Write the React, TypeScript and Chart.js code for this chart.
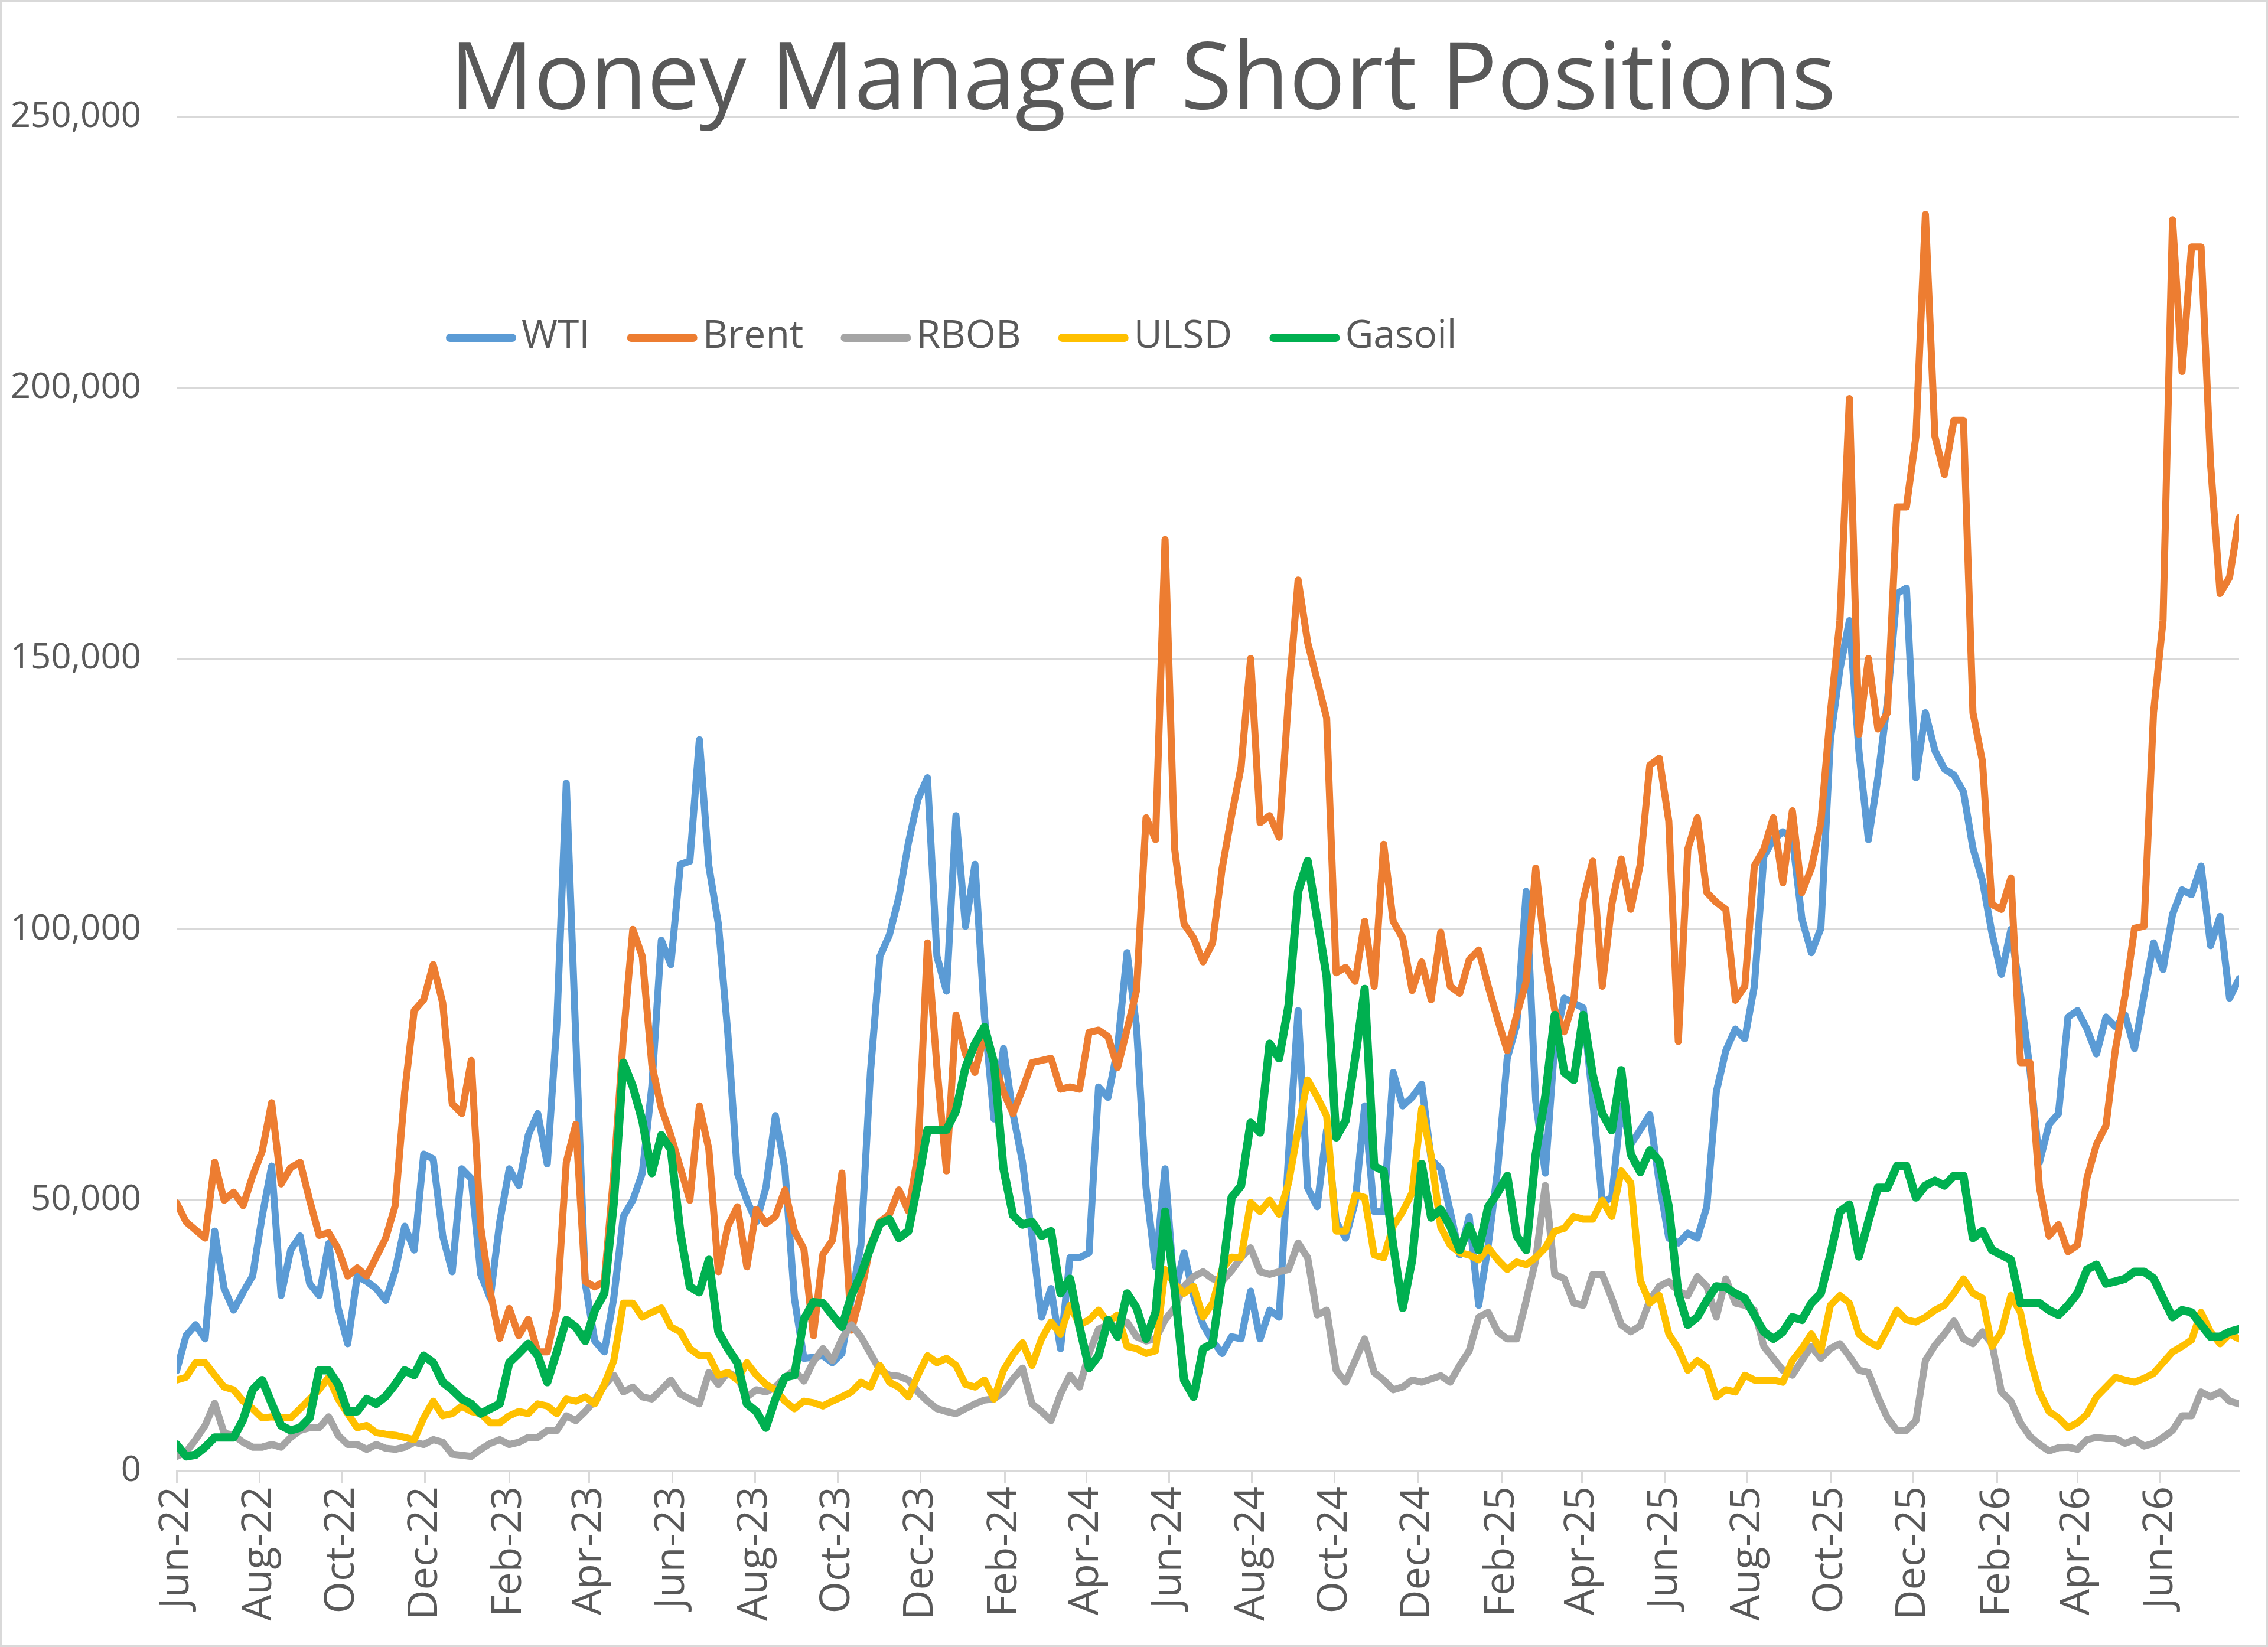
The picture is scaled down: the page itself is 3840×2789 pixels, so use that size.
import { useEffect, useRef } from 'react';
import Chart from 'chart.js/auto';

// weekly data, thousands of contracts, first week = 7 Jun 2022
const START = Date.UTC(2022, 5, 7);
const WEEK_DAYS = 7;

const tickLabels = [
  'Jun-22', 'Aug-22', 'Oct-22', 'Dec-22', 'Feb-23', 'Apr-23', 'Jun-23', 'Aug-23', 'Oct-23',
  'Dec-23', 'Feb-24', 'Apr-24', 'Jun-24', 'Aug-24', 'Oct-24', 'Dec-24', 'Feb-25', 'Apr-25',
  'Jun-25', 'Aug-25', 'Oct-25', 'Dec-25', 'Feb-26', 'Apr-26', 'Jun-26',
];

const wti = [
  18.5, 25, 27, 24.4, 44.3, 33.7, 29.7, 33, 36, 47, 56.3, 32.4, 40.8, 43.4, 34.6, 32.4, 42, 30.1, 23.5, 35.9, 35, 33.7,
  31.5, 37, 45.2, 40.8, 58.5, 57.6, 43.4, 36.8, 55.8, 54, 36.3, 31.9, 46, 55.8, 52.7, 62, 66, 56.7, 82.4, 127, 80, 34.6,
  24, 22, 32, 47, 50, 55, 71, 98, 93.5, 112, 112.6, 135, 111.7, 101, 80.7, 55, 50, 46, 52.3, 65.6, 55.8, 31.9,
  20.8, 21, 21.3, 20, 21.7, 31.9, 41.7, 73.6, 95, 99, 106, 116, 124, 128, 95, 88.6, 121, 100.6, 112, 84, 65, 78,
  66, 57, 43.4, 28.4, 33.7, 22.6, 39.4, 39.4, 40.3, 70.9, 69, 78, 95.7, 82, 52.3, 37.7, 55.8, 32.8, 40.3, 32.4, 27, 24,
  21.7, 24.8, 24.4, 33.2, 24.4, 29.7, 28.4, 58.5, 85, 52.3, 48.8, 63, 46, 43, 49.6, 67.4, 47.9, 47.9, 73.6, 67.4, 69, 71.4,
  57.5, 55.8, 47.9, 39.9, 47, 30.6, 41.7, 55.8, 76.2, 82.4, 107, 68.3, 55, 78.9, 87.3, 86.4, 85.5, 68.3, 49.6, 50.5, 67.4, 60.3,
  63, 65.8, 53.2, 43, 42.1, 43.9, 43, 48.8, 70, 77.6, 81.6, 79.8, 89.5, 113.5, 116.6, 118, 117, 102, 95.7, 100.2, 135, 148,
  157, 133, 116.6, 128, 142, 162, 163, 128, 140, 133, 129.6, 128.5, 125.4, 115, 109, 99.3, 91.7, 100, 88, 74, 57, 64,
  66, 83.8, 85, 81.6, 77, 83.8, 82, 84.2, 78, 87.8, 97.5, 92.6, 102.8, 107.3, 106.4, 111.7, 97, 102.4, 87.3, 90.9,
];

const brent = [
  49.5, 46, 44.5, 43, 57, 50, 51.5, 49, 54.5, 59, 68, 53, 56, 57, 50, 43.5, 44, 41, 36, 37.5, 36, 39.5,
  43, 49, 70, 85, 87, 93.5, 86.4, 67.8, 66, 75.8, 45, 33, 24.5, 30, 25, 28, 22, 22, 30, 57, 64, 35,
  34, 35, 55, 80, 100, 95, 75, 67, 62, 56, 50, 67.4, 59.4, 36.8, 45.2, 48.8, 37.7, 48.3, 45.7, 47, 51.9, 44.3,
  41, 25, 40, 42.6, 55, 26, 32.8, 41.7, 46, 47.4, 51.9, 48, 58.5, 97.5, 74.5, 55.4, 84.2, 77, 73.6, 80.7, 75.4, 70,
  66, 70.5, 75.4, 75.8, 76.2, 70.5, 70.9, 70.5, 81, 81.4, 80.2, 74.5, 81.5, 88.7, 120.6, 116.6, 172, 115, 101, 98.4, 94, 97.5,
  111.2, 121, 130, 150, 119.7, 121, 117, 143, 164.5, 153, 146, 139, 92, 93, 90.4, 101.5, 89.5, 115.7, 101.5, 98.4, 88.7, 94,
  87, 99.5, 89.5, 88.2, 94.4, 96.2, 89.5, 83.3, 77.6, 84.2, 90.4, 111.3, 95.7, 85.1, 81.1, 86.9, 105.5, 112.6, 89.5, 104.6, 113, 103.7,
  112, 130.3, 131.6, 120, 79.3, 114.8, 120.6, 106.8, 105, 103.7, 86.9, 89.5, 111.7, 114.8, 120.6, 108.6, 121.9, 106.8, 111.3, 119.7, 140, 157,
  198, 136, 150, 137, 140, 178, 178, 191, 232, 191, 184, 194, 194, 140, 131, 104.6, 103.7, 109.5, 75.4, 75.4, 52.3, 43.4,
  45.5, 40.5, 41.7, 54.1, 60.3, 63.8, 78, 87.8, 100.2, 100.6, 140, 157, 231, 203, 226, 226, 186, 162, 165, 176,
];

const rbob = [
  2.7, 3.5, 5.8, 8.4, 12.5, 7, 6.6, 5.3, 4.4, 4.4, 4.9, 4.4, 6.2, 7.5, 8, 8, 10, 6.6, 4.9, 4.9, 4, 4.9,
  4.2, 4, 4.4, 5.3, 4.9, 5.8, 5.3, 3.1, 2.9, 2.7, 4, 5.1, 5.8, 4.9, 5.3, 6.2, 6.2, 7.5, 7.5, 10.2, 9.3, 11,
  13, 15.8, 17.7, 14.6, 15.5, 13.7, 13.3, 15, 16.8, 14.2, 13.3, 12.4, 18.2, 16, 18.2, 17.3, 13.7, 15, 14.6, 15.5, 17.3, 18.6,
  16.6, 20.2, 22.6, 20.4, 24.4, 27, 24.8, 21.7, 18.6, 17.7, 17.5, 16.8, 14.6, 12.9, 11.5, 11, 10.6, 11.5, 12.4, 13.1, 13.3, 14.6,
  17, 19, 12.4, 11, 9.3, 14.2, 17.7, 15.5, 21.7, 26.2, 27, 26.6, 27.5, 24.8, 24, 24.4, 27.9, 30.1, 34.1, 35.9, 36.8, 35.5,
  35, 37, 39.4, 41.2, 36.8, 36.3, 36.8, 37.2, 42.1, 39.4, 28.8, 29.7, 18.6, 16.4, 20.4, 24.4, 18.2, 16.8, 15, 15.5, 16.8, 16.4,
  17, 17.6, 16.4, 19.5, 22.2, 28.4, 29.3, 25.7, 24.4, 24.4, 31.5, 39, 52.7, 36.3, 35.5, 31, 30.6, 36.3, 36.3, 31.9, 27, 25.7,
  26.8, 31.5, 34.1, 35, 33.2, 32.4, 35.9, 34.1, 28.4, 35.5, 31, 30.6, 29.7, 23, 20.8, 18.6, 17.7, 20.4, 23, 20.8, 22.6, 23.5,
  21.2, 18.6, 18.2, 13.7, 9.8, 7.5, 7.5, 9.3, 20.4, 23.2, 25.3, 27.7, 24.4, 23.5, 25.7, 23.5, 14.6, 12.9, 8.9, 6.4, 4.9, 3.7,
  4.3, 4.4, 4, 5.8, 6.2, 6, 6, 5.1, 5.8, 4.6, 5.1, 6.2, 7.5, 10.2, 10.2, 14.6, 13.7, 14.6, 12.9, 12.4,
];

const ulsd = [
  16.8, 17.3, 20, 20, 17.7, 15.5, 15, 12.9, 11.5, 9.8, 10, 9.8, 9.8, 11.5, 13.3, 15, 17.3, 13.3, 10.6, 8, 8.4, 7.1,
  6.8, 6.6, 6.2, 5.8, 9.8, 12.9, 10.2, 10.6, 12, 11, 10.6, 8.9, 8.9, 10.2, 11, 10.6, 12.4, 12, 10.6, 13.3, 12.9, 13.7,
  12.4, 16, 20.4, 31, 31, 28.4, 29.3, 30.1, 26.6, 25.7, 22.6, 21.3, 21.3, 17.7, 18.2, 16.8, 20, 17.7, 16, 15, 12.9, 11.5,
  12.9, 12.6, 12, 12.9, 13.7, 14.6, 16.4, 15.5, 19.5, 16.4, 15.5, 13.7, 17.7, 21.3, 20, 20.8, 19.5, 16, 15.5, 16.8, 13.3, 18.6,
  21.5, 23.7, 19.5, 24.4, 27.5, 25.3, 30.6, 27, 27.9, 29.7, 27.5, 28.8, 23, 22.6, 21.7, 22.2, 37.2, 34.6, 32.8, 34.1, 28.4, 31,
  37.2, 39.5, 39.4, 49.6, 47.9, 50, 47.4, 53.2, 63, 72.2, 69.1, 65.6, 44.3, 44.3, 51, 50.5, 39.9, 39.4, 45.2, 47.9, 51.4, 66.9,
  58.2, 45, 41.7, 40.3, 39.9, 39, 41.2, 39, 37.2, 38.6, 38.1, 39.4, 41.2, 44.3, 44.8, 47, 46.5, 46.5, 50, 47, 55.4, 53.2,
  35.2, 31, 32.4, 25.3, 22.6, 18.6, 20.4, 19.1, 13.7, 15, 14.6, 17.7, 16.8, 16.8, 16.8, 16.4, 20.4, 22.6, 25.3, 22.2, 30.6, 32.4,
  31, 25.3, 23.9, 23, 26.2, 29.7, 27.9, 27.5, 28.4, 29.7, 30.6, 32.8, 35.5, 32.8, 31.9, 23, 25.7, 32.4, 29.3, 20.8, 14.6, 11,
  9.8, 8, 8.9, 10.5, 13.7, 15.5, 17.3, 16.8, 16.4, 17.1, 18, 20, 22, 23, 24.2, 29.3, 25.7, 23.5, 25.3, 24.4,
];

const gasoil = [
  4.9, 2.7, 3, 4.4, 6.2, 6.2, 6.2, 9.5, 15, 16.8, 12.5, 8.4, 7.5, 8, 9.8, 18.6, 18.6, 16, 11, 11, 13.3, 12.4,
  13.8, 16, 18.6, 17.7, 21.3, 20, 16.4, 15, 13.3, 12.4, 10.6, 11.5, 12.4, 20, 21.7, 23.5, 21.3, 16.4, 22, 27.9, 26.6, 24,
  29.6, 32.8, 49.6, 75.4, 71, 64.7, 55, 62, 59.4, 44, 34, 33, 39, 25.7, 22.6, 20, 12.4, 11, 8, 13.3, 17.3, 17.7,
  28, 31.2, 31, 28.8, 26.6, 32.4, 36.3, 41.2, 45.7, 46.5, 43, 44.3, 53.2, 63, 63, 63, 66.5, 74.5, 78.9, 82, 75.4, 55.8,
  47.2, 45.5, 46, 43.4, 44.3, 32.8, 35.5, 26.6, 19, 21.3, 27.9, 24.8, 32.8, 30.1, 24.4, 29.3, 47.9, 33.7, 16.8, 13.7, 22.6, 23.5,
  36, 50.5, 52.7, 64.3, 62.5, 78.9, 76.2, 86, 107, 112.6, 102, 91.3, 61.6, 64.7, 76.2, 89, 56.3, 55.4, 41.7, 30.1, 39, 56.7,
  46.8, 48.3, 45.2, 40.8, 45.2, 40.8, 48.8, 51.4, 54.5, 43.4, 40.8, 58.5, 69.1, 84.2, 73.6, 72.2, 84.2, 73.1, 66, 62.9, 74, 58.5,
  55.2, 59.2, 57.2, 48.8, 32.8, 27, 28.4, 31.5, 34.1, 33.9, 32.8, 31.9, 28.8, 25.7, 24.4, 25.7, 28.4, 27.9, 31, 32.8, 39.9, 47.9,
  49.2, 39.6, 46.1, 52.3, 52.3, 56.3, 56.3, 50.5, 52.7, 53.6, 52.7, 54.5, 54.5, 43, 44.3, 40.8, 39.9, 39, 31, 31, 31, 29.7,
  28.8, 30.6, 32.8, 37.2, 38.1, 34.6, 35, 35.5, 36.8, 36.8, 35.6, 31.9, 28.4, 29.7, 29.3, 27, 24.8, 24.8, 25.7, 26.2,
];

const FONT = '"Open Sans", "Noto Sans", sans-serif';
const TEXT = '#595959';
const GRID = '#D9D9D9';

// ticks every two months, counted in days from the first week
const tickDays = tickLabels.map((_, k) => (Date.UTC(2022, 5 + 2 * k, 7) - START) / 86400000);
const lastDay = (wti.length - 1) * WEEK_DAYS;

const toPoints = (vals: number[]) => vals.map((v, i) => ({ x: i * WEEK_DAYS, y: v * 1000 }));

// legend sits inside the plot, like the Excel original
const insideLegend = {
  id: 'insideLegend',
  afterLayout(chart: any) {
    // the original title is centred a little right of the canvas middle
    if (chart.titleBlock) chart.titleBlock.left += 75;
  },
  afterDraw(chart: any) {
    const ctx = chart.ctx;
    const y = 568;
    let x = 751;
    ctx.save();
    ctx.font = `66px ${FONT}`;
    ctx.textBaseline = 'middle';
    chart.data.datasets.forEach((ds: any) => {
      ctx.strokeStyle = ds.borderColor;
      ctx.lineWidth = 14;
      ctx.lineCap = 'round';
      ctx.beginPath();
      ctx.moveTo(x + 7, y);
      ctx.lineTo(x + 112, y);
      ctx.stroke();
      ctx.fillStyle = TEXT;
      ctx.fillText(ds.label, x + 128, y - 2);
      x += 128 + ctx.measureText(ds.label).width + 63;
    });
    ctx.restore();
  },
};

const series = [
  { label: 'WTI', data: wti, color: '#5B9BD5', width: 12 },
  { label: 'Brent', data: brent, color: '#ED7D31', width: 12 },
  { label: 'RBOB', data: rbob, color: '#A5A5A5', width: 12 },
  { label: 'ULSD', data: ulsd, color: '#FFC000', width: 12 },
  { label: 'Gasoil', data: gasoil, color: '#00B050', width: 14 },
];

const ShortPositionsChart = () => {
  const canvasRef = useRef<HTMLCanvasElement | null>(null);
  const chartRef = useRef<Chart | null>(null);

  useEffect(() => {
    if (!canvasRef.current) return;
    if (chartRef.current) chartRef.current.destroy();

    chartRef.current = new Chart(canvasRef.current, {
      type: 'line',
      data: {
        datasets: series.map((s, i) => ({
          label: s.label,
          data: toPoints(s.data),
          borderColor: s.color,
          backgroundColor: s.color,
          borderWidth: s.width,
          borderJoinStyle: 'round',
          borderCapStyle: 'round',
          pointRadius: 0,
          tension: 0,
          order: series.length - i, // later series drawn on top
        })),
      },
      options: {
        animation: false,
        responsive: true,
        maintainAspectRatio: false,
        layout: { padding: { left: 0, right: 45, top: 0, bottom: 0 } },
        scales: {
          x: {
            type: 'linear',
            min: 0,
            max: lastDay,
            afterBuildTicks: (scale: any) => {
              scale.ticks = tickDays.map((v) => ({ value: v }));
            },
            afterFit: (scale: any) => {
              scale.height = 294;
            },
            ticks: {
              autoSkip: false,
              minRotation: 90,
              maxRotation: 90,
              padding: 6,
              color: TEXT,
              font: { family: FONT, size: 70 },
              callback: (_v: any, i: number) => tickLabels[i] ?? '',
            },
            grid: { drawOnChartArea: false, color: GRID, lineWidth: 3, tickLength: 20 },
            border: { color: GRID, width: 3 },
          },
          y: {
            min: 0,
            max: 250000,
            afterFit: (scale: any) => {
              scale.width = 295;
            },
            ticks: {
              stepSize: 50000,
              padding: 60,
              color: TEXT,
              font: { family: FONT, size: 60 },
              callback: (v: any) => Number(v).toLocaleString('en-US'),
            },
            grid: { color: GRID, lineWidth: 3, drawTicks: false },
            border: { display: false },
          },
        },
        plugins: {
          legend: { display: false },
          tooltip: { enabled: false },
          title: {
            display: true,
            text: 'Money Manager Short Positions',
            color: TEXT,
            font: { family: FONT, size: 158, weight: 'normal', lineHeight: '110px' },
            padding: { top: 80, bottom: 4 },
          },
        },
      },
      plugins: [insideLegend],
    });

    return () => {
      if (chartRef.current) {
        chartRef.current.destroy();
        chartRef.current = null;
      }
    };
  }, []);

  return <canvas ref={canvasRef}></canvas>;
};

export default function App() {
  return (
    <div
      style={{
        position: 'absolute',
        left: 0,
        top: 0,
        width: 3840,
        height: 2789,
        boxSizing: 'border-box',
        border: `4px solid ${GRID}`,
        background: '#fff',
      }}
    >
      <div style={{ position: 'relative', width: '100%', height: '100%' }}>
        <ShortPositionsChart />
      </div>
    </div>
  );
}
